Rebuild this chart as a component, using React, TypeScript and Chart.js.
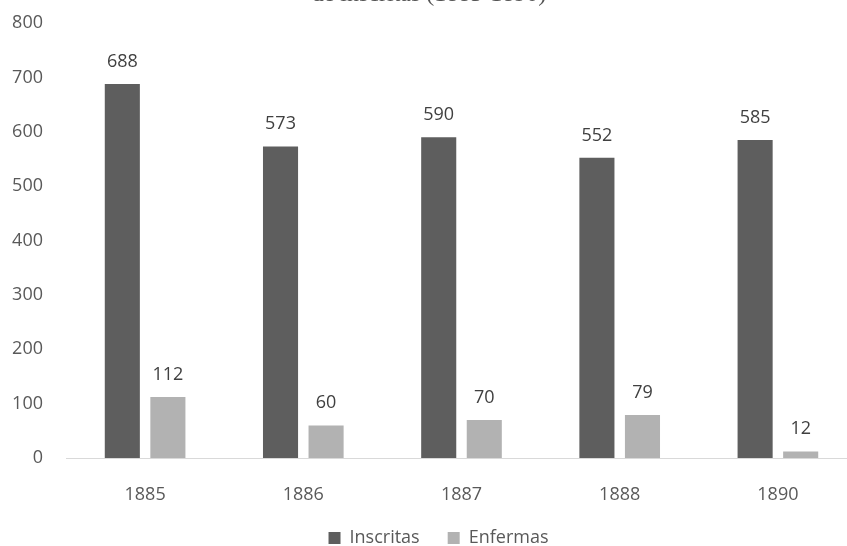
import React, { useEffect, useRef } from "react";
import { Chart, registerables } from "chart.js";

Chart.register(...registerables);

const categories = ["1885", "1886", "1887", "1888", "1890"];
const inscritas = [688, 573, 590, 552, 585];
const enfermas = [112, 60, 70, 79, 12];
const yTicks = [0, 100, 200, 300, 400, 500, 600, 700, 800];
const titleText = "de inscritas (1885-1890)";

const FONT = "'Open Sans', 'Liberation Sans', sans-serif";

const valueLabels = {
  id: "valueLabels",
  afterDatasetsDraw(chart: any) {
    const ctx = chart.ctx;
    ctx.save();
    ctx.font = `18px ${FONT}`;
    ctx.fillStyle = "#404040";
    ctx.textAlign = "center";
    ctx.textBaseline = "alphabetic";
    chart.data.datasets.forEach((ds: any, i: number) => {
      const meta = chart.getDatasetMeta(i);
      meta.data.forEach((bar: any, j: number) => {
        ctx.fillText(String(ds.data[j]), bar.x, bar.y - 17);
      });
    });
    ctx.restore();
  },
};

const cutTitle = {
  id: "cutTitle",
  afterDraw(chart: any) {
    const ctx = chart.ctx;
    ctx.save();
    ctx.font = `24px 'Liberation Serif', serif`;
    ctx.fillStyle = "#555555";
    ctx.textAlign = "center";
    ctx.textBaseline = "alphabetic";
    ctx.fillText(titleText, 429, 1);
    ctx.restore();
  },
};

const shiftLegend = {
  id: "shiftLegend",
  afterLayout(chart: any) {
    const lg = chart.legend;
    if (lg) {
      lg.left += 10;
      lg.right += 10;
    }
  },
};

export default function App() {
  const ref = useRef<HTMLCanvasElement>(null);
  useEffect(() => {
    const chart = new Chart(ref.current!, {
      type: "bar",
      data: {
        labels: categories,
        datasets: [
          {
            label: "Inscritas",
            data: inscritas,
            backgroundColor: "#5e5e5e",
            barPercentage: 0.77,
            categoryPercentage: 0.576,
          },
          {
            label: "Enfermas",
            data: enfermas,
            backgroundColor: "#b2b2b2",
            barPercentage: 0.77,
            categoryPercentage: 0.576,
          },
        ],
      },
      options: {
        responsive: false,
        animation: false,
        layout: { padding: { top: 23, left: 0, right: 0, bottom: -11 } },
        plugins: {
          title: { display: false },
          tooltip: { enabled: false },
          legend: {
            position: "bottom",
            labels: {
              boxWidth: 12,
              boxHeight: 12,
              padding: 28,
              color: "#595959",
              font: { size: 18, family: FONT },
            },
          },
        },
        scales: {
          x: {
            grid: { display: false, drawTicks: false },
            border: { display: true, color: "#d9d9d9", width: 1 },
            ticks: { color: "#595959", font: { size: 18, family: FONT }, padding: 26 },
            afterFit(scale: any) {
              scale.height = 43;
              scale.paddingLeft = 0;
              scale.paddingRight = 0;
            },
          },
          y: {
            min: 0,
            max: 800,
            afterBuildTicks(scale: any) {
              scale.ticks = yTicks.map((v) => ({ value: v }));
            },
            grid: { display: false, drawTicks: false },
            border: { display: false },
            ticks: { color: "#595959", font: { size: 18, family: FONT }, padding: 23 },
            afterFit(scale: any) {
              scale.width = 66;
              scale.paddingTop = 0;
              scale.paddingBottom = 0;
            },
          },
        },
      },
      plugins: [valueLabels, cutTitle, shiftLegend],
    });
    return () => chart.destroy();
  }, []);
  return (
    <div style={{ position: "fixed", left: 0, top: 0, width: 847, height: 546, overflow: "hidden", background: "#fff" }}>
      <canvas ref={ref} width={857} height={546} />
    </div>
  );
}
